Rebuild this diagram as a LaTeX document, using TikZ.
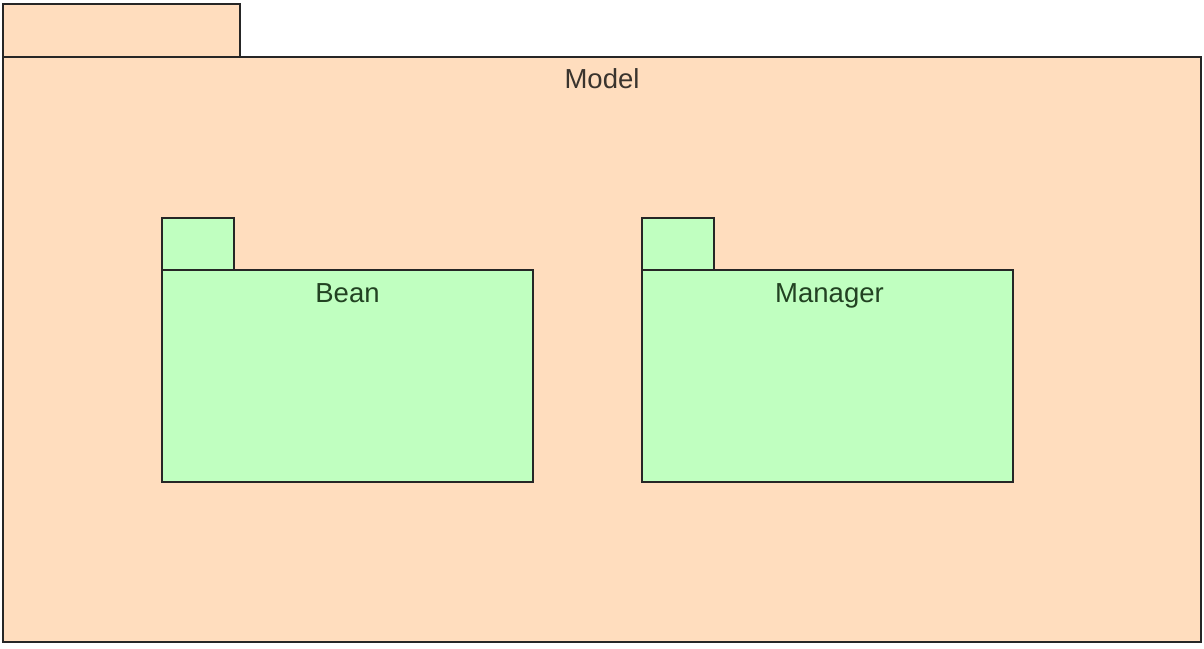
\documentclass[tikz,border=0pt]{standalone}
\usepackage{fontspec}
\setmainfont{Liberation Sans}
\definecolor{peach}{RGB}{255,221,190}
\definecolor{mint}{RGB}{192,255,192}
\definecolor{modeltext}{RGB}{58,52,46}
\definecolor{greentext}{RGB}{34,66,34}
\begin{document}
\begin{tikzpicture}[x=1pt,y=-1pt,
  pkgbox/.style={draw=black!85,line width=1.8pt,rectangle,inner sep=0pt,outer sep=0pt,anchor=north west},
  outerpkg/.style={pkgbox,fill=peach},
  innerpkg/.style={pkgbox,fill=mint},
  pkglabel/.style={font=\fontsize{27.5}{30}\selectfont,inner sep=0pt,anchor=base}]
\useasboundingbox (0,0) rectangle (1204,648);
% outer package
\node[outerpkg,minimum width=237pt,minimum height=53pt] (modeltab) at (3,4) {};
\node[outerpkg,minimum width=1198pt,minimum height=585pt] (modelbody) at (3,57) {};
\node[pkglabel,text=modeltext] (modellabel) at (602,88.5) {Model};
% Bean
\node[innerpkg,minimum width=72pt,minimum height=52pt] (beantab) at (162,218) {};
\node[innerpkg,minimum width=371pt,minimum height=212pt] (beanbody) at (162,270) {};
\node[pkglabel,text=greentext] (beanlabel) at (347.5,302) {Bean};
% Manager
\node[innerpkg,minimum width=72pt,minimum height=52pt] (mgrtab) at (642,218) {};
\node[innerpkg,minimum width=371pt,minimum height=212pt] (mgrbody) at (642,270) {};
\node[pkglabel,text=greentext] (mgrlabel) at (829.5,302) {Manager};
\end{tikzpicture}
\end{document}
